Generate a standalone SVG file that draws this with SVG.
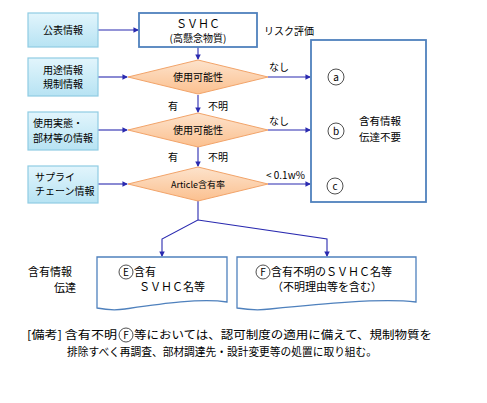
<svg xmlns="http://www.w3.org/2000/svg" width="487" height="403" viewBox="0 0 487 403">
<defs>
<linearGradient id="gIn" x1="0" y1="0" x2="0" y2="1"><stop offset="0" stop-color="#e2f5fc"/><stop offset="1" stop-color="#b7e3f3"/></linearGradient>
<linearGradient id="gDia" x1="0" y1="0" x2="0" y2="1"><stop offset="0" stop-color="#fde3cc"/><stop offset="1" stop-color="#fbc08f"/></linearGradient>
<marker id="arr" viewBox="0 0 6 6" refX="5" refY="3" markerWidth="5" markerHeight="5" orient="auto"><path d="M0,0 L6,3 L0,6 Z" fill="#2a2ab0"/></marker>
<style>
text{font-family:"Noto Sans CJK JP","Liberation Sans",sans-serif;font-size:10px;fill:#000}
.inp{fill:url(#gIn);stroke:#8fcce3;stroke-width:1.2}
.dia{fill:url(#gDia);stroke:#f2a46a;stroke-width:1}
.box{fill:#fff;stroke:#4f81bd;stroke-width:1.8}
.doc{fill:#fff;stroke:#4f81bd;stroke-width:1.3}
.ln{fill:none;stroke:#2a2ab0;stroke-width:1.1}
.ar{marker-end:url(#arr)}
.c{fill:none;stroke:#222;stroke-width:0.8}
.m{text-anchor:middle}
.n{font-size:11.5px}
</style>
</defs>
<g id="connectors">
<path class="ln ar" d="M98,30 H138"/>
<path class="ln ar" d="M98,77 H127"/>
<path class="ln ar" d="M98,130 H127"/>
<path class="ln ar" d="M98,184 H127"/>
<path class="ln ar" d="M198,47 V59"/>
<path class="ln ar" d="M198,95 V112"/>
<path class="ln ar" d="M198,147 V166"/>
<path class="ln ar" d="M268,77 H310"/>
<path class="ln ar" d="M268,130 H310"/>
<path class="ln ar" d="M268,184 H310"/>
<path class="ln ar" d="M198,200 V220 L162,239 V256"/>
<path class="ln ar" d="M198,220 L327,239 V256"/>
<text x="264" y="35">リスク評価</text>
<text x="269" y="71">なし</text>
<text x="269" y="125">なし</text>
<text x="266" y="179">&lt; 0.1w%</text>
<text x="173" y="110" class="m">有</text>
<text x="218" y="110" class="m">不明</text>
<text x="173" y="161" class="m">有</text>
<text x="218" y="161" class="m">不明</text>
</g>
<g id="in1"><rect class="inp" x="28" y="13" width="70" height="34"/><text x="63" y="34" class="m">公表情報</text></g>
<g id="in2"><rect class="inp" x="28" y="58" width="70" height="38"/><text x="63" y="74" class="m">用途情報</text><text x="63" y="88" class="m">規制情報</text></g>
<g id="in3"><rect class="inp" x="28" y="112" width="70" height="38"/><text x="33" y="127">使用実態・</text><text x="33" y="142">部材等の情報</text></g>
<g id="in4"><rect class="inp" x="28" y="166" width="70" height="37"/><text x="35" y="181">サプライ</text><text x="35" y="195">チェーン情報</text></g>
<g id="svhc"><rect class="box" x="139" y="13" width="118" height="34"/><text x="198" y="28" class="m" style="font-size:11px">ＳＶＨＣ</text><text x="198" y="42" class="m">(高懸念物質)</text></g>
<g id="d1"><path class="dia" d="M128,77 L198,60 L268,77 L198,94 Z"/><text x="198" y="81" class="m">使用可能性</text></g>
<g id="d2"><path class="dia" d="M128,130 L198,113 L268,130 L198,147 Z"/><text x="198" y="134" class="m">使用可能性</text></g>
<g id="d3"><path class="dia" d="M128,184 L198,167 L268,184 L198,201 Z"/><text x="198" y="188" class="m" style="font-size:9px">Article含有率</text></g>
<g id="nores"><rect class="box" x="311" y="40" width="115" height="162"/>
<circle class="c" cx="336" cy="77" r="8"/><text x="336" y="81" class="m">a</text>
<circle class="c" cx="336" cy="131" r="8"/><text x="336" y="135" class="m">b</text>
<circle class="c" cx="335" cy="186" r="8"/><text x="335" y="190" class="m">c</text>
<text x="359" y="125" style="font-size:10.5px">含有情報</text><text x="359" y="141" style="font-size:10.5px">伝達不要</text></g>
<g id="lbl"><text x="28" y="276" style="font-size:11px">含有情報</text><text x="76" y="292" text-anchor="end" style="font-size:11px">伝達</text></g>
<g id="docE"><path class="doc" d="M97,257 H227 V302 C200,298 160,304 125,309 C112,311 102,309 97,308 Z"/>
<circle class="c" cx="126" cy="272" r="7"/><text x="126" y="276" class="m">E</text>
<text x="134" y="276" style="font-size:11px">含有</text><text x="139" y="291" style="font-size:11px">ＳＶＨＣ名等</text></g>
<g id="docF"><path class="doc" d="M237,257 H416 V302 C380,298 320,304 270,309 C255,311 243,309 237,308 Z"/>
<circle class="c" cx="263" cy="272" r="7"/><text x="263" y="276" class="m">F</text>
<text x="271" y="276" style="font-size:11px">含有不明のＳＶＨＣ名等</text><text x="327" y="291" class="m" style="font-size:11px">（不明理由等を含む）</text></g>
<g id="note">
<text x="27" y="339" class="n" textLength="90" lengthAdjust="spacingAndGlyphs">[備考] 含有不明</text>
<circle class="c" cx="126" cy="335" r="7"/><text x="126" y="339" class="m">F</text>
<text x="134" y="339" class="n" textLength="298" lengthAdjust="spacingAndGlyphs">等においては、認可制度の適用に備えて、規制物質を</text>
<text x="67" y="356" class="n" textLength="310" lengthAdjust="spacingAndGlyphs">排除すべく再調査、部材調達先・設計変更等の処置に取り組む。</text>
</g>
</svg>
